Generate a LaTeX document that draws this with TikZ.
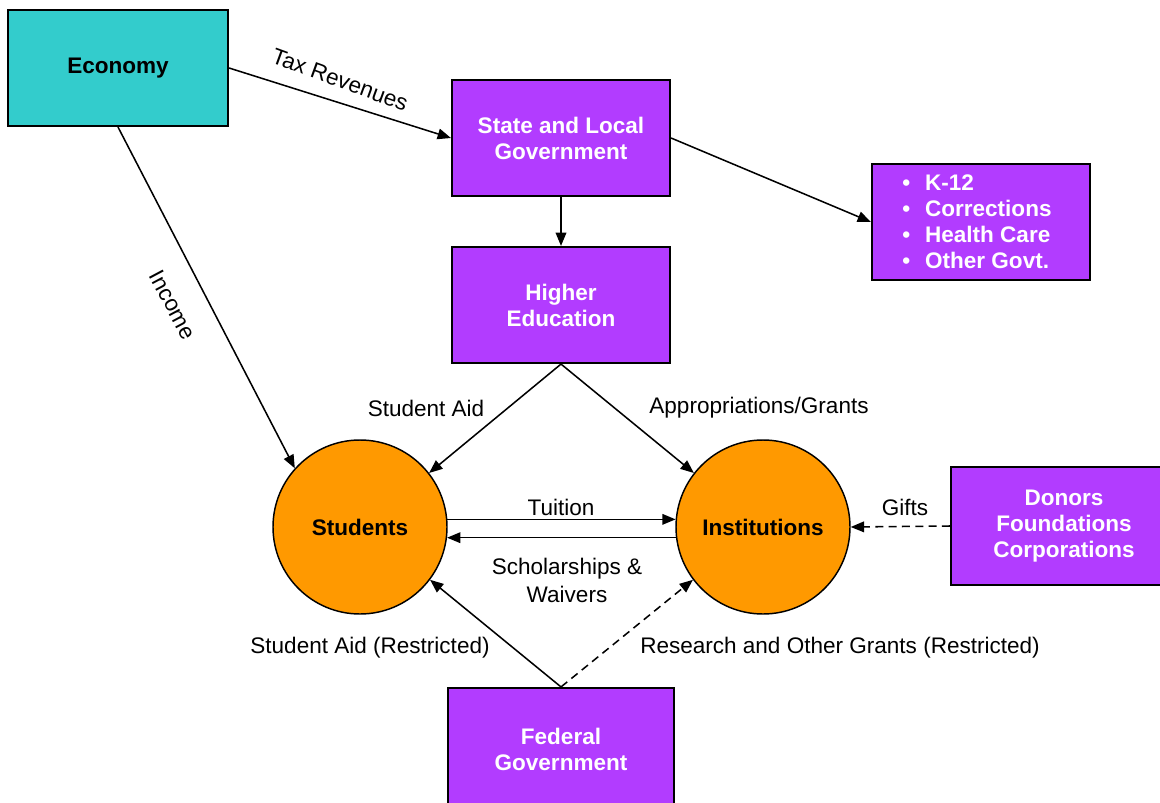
\documentclass[tikz,border=0pt]{standalone}
\usepackage{fontspec}
\setmainfont{Liberation Sans}
\usetikzlibrary{arrows.meta,calc}
\definecolor{econ}{HTML}{33CCCC}
\definecolor{purp}{HTML}{B23CFF}
\definecolor{orng}{HTML}{FF9900}
\begin{document}
\begin{tikzpicture}[x=0.75pt,y=-0.75pt,
  box/.style={draw=black,line width=1.6pt,fill=purp,text=white,
    font=\fontsize{16.9}{19.5}\selectfont\bfseries,align=center,inner sep=0pt,
    minimum width=163.5pt,minimum height=87pt},
  circ/.style={circle,draw=black,line width=1.1pt,fill=orng,minimum size=130.5pt,
    inner sep=0pt,font=\fontsize{16.9}{20}\selectfont\bfseries},
  lbl/.style={font=\fontsize{16.9}{21}\selectfont,inner sep=0pt,align=center},
  arr/.style={line width=1.15pt,-{Triangle[length=10pt,width=8pt]}},
  dsh/.style={arr,dash pattern=on 6pt off 4pt}]
\useasboundingbox (0,0) rectangle (1160,803);
\clip (0,0) rectangle (1160,803);

\node[box,fill=econ,text=black,minimum width=165pt] (econ) at (118,68) {\raisebox{-1.5pt}{Economy}};
\node[box] (state) at (561,138) {State and Local\\Government};
\node[box] (higher) at (561,305) {Higher\\Education};
\node[box,align=left] (k12) at (981,222) {\hspace*{-6pt}\makebox[17pt][l]{\textbullet}K-12\\\hspace*{-6pt}\makebox[17pt][l]{\textbullet}Corrections\\\hspace*{-6pt}\makebox[17pt][l]{\textbullet}Health Care\\\hspace*{-6pt}\makebox[17pt][l]{\textbullet}Other Govt.};
\node[box,minimum width=169.5pt,minimum height=88.5pt] (donors) at (1064,526) {Donors\\Foundations\\Corporations};
\node[box,minimum width=169.5pt,minimum height=91.5pt] (fed) at (561,749) {Federal\\Government};
\node[circ] (stud) at (360,527) {Students};
\node[circ] (inst) at (763,527) {Institutions};

\draw[arr] (econ.east) -- (state.west);
\draw[arr] (econ.south) -- (stud.138);
\draw[arr] (state.east) -- (k12.west);
\draw[arr] (state.south) -- (higher.north);
\draw[arr] (higher.south) -- (stud.38);
\draw[arr] (higher.south) -- (inst.142);
\draw[arr] (stud.5) -- (inst.175);
\draw[arr] (inst.-173) -- (stud.-7);
\draw[dsh] (donors.west) -- (inst.east);
\draw[arr] (fed.north) -- (stud.-37);
\draw[dsh] (fed.north) -- (inst.-143);

\node[lbl,rotate=-20] (ltax) at (340,80) {Tax Revenues};
\node[lbl,rotate=-62] (linc) at (173,305) {Income};
\node[lbl] (lsa) at (426,408) {Student Aid};
\node[lbl] (lapp) at (759,408) {Appropriations/Grants};
\node[lbl] (ltui) at (561,507) {Tuition};
\node[lbl] (lsch) at (567,580) {Scholarships \&\\Waivers};
\node[lbl] (lgift) at (905,507) {Gifts};
\node[lbl] (lsar) at (370,648) {Student Aid (Restricted)};
\node[lbl] (lres) at (840,648) {Research and Other Grants (Restricted)};
\end{tikzpicture}
\end{document}
